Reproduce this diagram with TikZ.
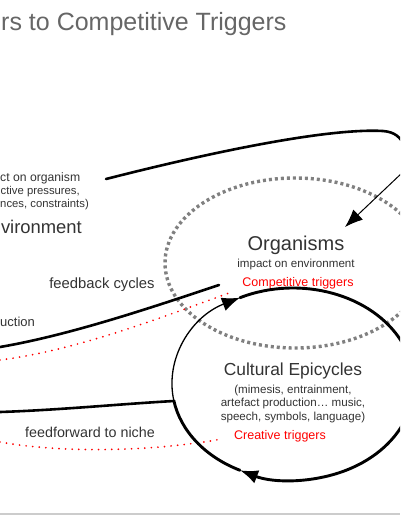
\documentclass[tikz,border=0pt]{standalone}
\usepackage{fontspec}
\setmainfont{Liberation Sans}
\usetikzlibrary{arrows.meta}

\begin{document}
\begin{tikzpicture}[
    x=1pt, y=-1pt,
    txt/.style={text=black!80, inner sep=0pt},
    redtxt/.style={text=red, inner sep=0pt, font=\fontsize{12.5}{14}\selectfont},
    thickline/.style={line width=2.6pt, line cap=round},
    thinline/.style={line width=1.3pt},
    reddots/.style={red, line width=1.9pt, line cap=round, dash pattern=on 0pt off 6.6pt},
    greydots/.style={black!50, line width=3.4pt, dash pattern=on 3pt off 3pt},
    bighead/.style={-{Latex[length=18pt,width=14pt]}}
]
\useasboundingbox (0,0) rectangle (400,516);
\clip (0,0) rectangle (400,516);

% title and environment (cut off at the left)
\node[anchor=base west, inner sep=0pt, text=black!60, font=\fontsize{25}{30}\selectfont] (title) at (1,31) {rs to Competitive Triggers};
\node[txt, anchor=west, font=\fontsize{12.2}{14}\selectfont] (env1) at (0,178) {ct on organism};
\node[txt, anchor=east, font=\fontsize{11.3}{14}\selectfont] (env2) at (80,192) {ctive pressures,};
\node[txt, anchor=east, font=\fontsize{11.3}{14}\selectfont] (env3) at (89,205) {nces, constraints)};
\node[txt, anchor=east, font=\fontsize{18.4}{22}\selectfont] (env) at (82,227) {vironment};

% organisms
\node[txt, font=\fontsize{20}{24}\selectfont] (org) at (296,245) {Organisms};
\node[txt, font=\fontsize{11.6}{14}\selectfont] (orgsub) at (296,264) {impact on environment};
\node[redtxt] (comp) at (298,283) {Competitive triggers};

% cultural epicycles
\node[txt, font=\fontsize{17.4}{20}\selectfont] (cult) at (293,371) {Cultural Epicycles};
\node[txt, align=center, font=\fontsize{11.6}{13.5}\selectfont] (cultsub) at (293,403.5) {(mimesis, entrainment,\\artefact production\dots{} music,\\speech, symbols, language)};
\node[redtxt] (creat) at (280,436) {Creative triggers};

% labels on the left
\node[txt, font=\fontsize{14.8}{17}\selectfont] (fb) at (102,285) {feedback cycles};
\node[txt, anchor=west, font=\fontsize{13}{16}\selectfont] (prod) at (0,322) {uction};
\node[txt, font=\fontsize{14.3}{17}\selectfont] (ff) at (90,432) {feedforward to niche};

% free ends
\coordinate (topL) at (106,179);
\coordinate (topR) at (405,146);
\coordinate (inS) at (403,172);
\coordinate (inE) at (345,227);
\coordinate (fbL) at (0,347);
\coordinate (fbR) at (219,285);
\coordinate (rdL) at (0,360);
\coordinate (rdR) at (232,292);
\coordinate (lowL) at (0,412);
\coordinate (lowR) at (174,401);
\coordinate (ffL) at (0,442);
\coordinate (ffR) at (222,439);
\coordinate (oc) at (295,263);
\coordinate (cc) at (293,384);

\draw[greydots] (oc) ellipse [x radius=130, y radius=85];

\draw[thickline] (topL) .. controls (220,150) and (330,128) .. (383,131)
    .. controls (395,132) and (400,137) .. (topR);
\draw[thinline, line width=1pt, bighead] (inS) -- (inE);

\draw[thickline] (fbL) .. controls (70,335) and (150,308) .. (fbR);
\draw[reddots] (rdL) .. controls (80,350) and (170,314) .. (rdR);
\draw[thickline] (lowL) .. controls (60,410) and (120,404) .. (lowR);
\draw[reddots] (ffL) .. controls (60,453) and (150,452) .. (ffR);

% the cycle
\draw[thinline, bighead] ([shift={(170:121 and 96)}]cc) arc[start angle=170, end angle=244, x radius=121, y radius=96];
\draw[thickline, line width=2.9pt, bighead] ([shift={(244:121 and 96)}]cc) arc[start angle=244, end angle=476, x radius=121, y radius=96];
\draw[thickline, line width=2.9pt] ([shift={(116:121 and 96)}]cc) arc[start angle=116, end angle=170, x radius=121, y radius=96];

\draw[black!20, line width=1.2pt] (0,514) -- (400,514);
\end{tikzpicture}
\end{document}
